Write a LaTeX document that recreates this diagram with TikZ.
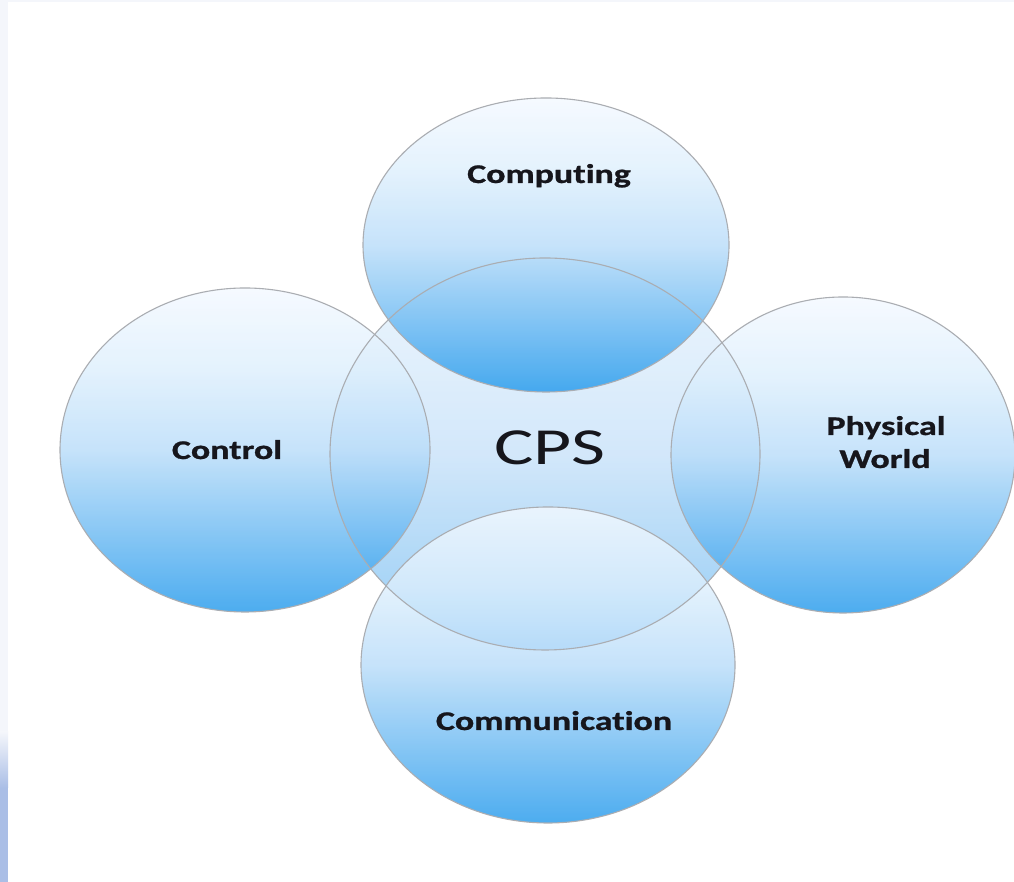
\documentclass[tikz,border=0pt]{standalone}
\usepackage{fontspec}
\setmainfont{Carlito}[Ligatures={NoCommon}]
\newfontfamily\lblfont{Carlito Bold}[FakeBold=0.8,Ligatures={NoCommon}]
\definecolor{oTop}{RGB}{244,249,255}
\definecolor{oHi}{RGB}{221,239,253}
\definecolor{oMid}{RGB}{184,220,249}
\definecolor{oBot}{RGB}{32,152,236}
\definecolor{cTop}{RGB}{232,244,253}
\definecolor{cHi}{RGB}{218,236,252}
\definecolor{cMid}{RGB}{200,226,249}
\definecolor{cBot}{RGB}{120,191,243}
\definecolor{rimgray}{RGB}{170,173,178}
\definecolor{txt}{RGB}{22,22,28}
\definecolor{stripA}{RGB}{244,246,251}
\definecolor{stripB}{RGB}{170,190,230}
\pgfdeclareverticalshading{bubshade}{100bp}{color(0bp)=(oBot); color(25bp)=(oBot); color(50bp)=(oMid); color(62.5bp)=(oHi); color(75bp)=(oTop); color(100bp)=(oTop)}
\pgfdeclareverticalshading{cpsshade}{100bp}{color(0bp)=(cBot); color(25bp)=(cBot); color(50bp)=(cMid); color(62.5bp)=(cHi); color(75bp)=(cTop); color(100bp)=(cTop)}
\begin{document}
\begin{tikzpicture}[x=1pt,y=1pt,
  outer/.style={shading=bubshade, fill opacity=0.8},
  inner/.style={shading=cpsshade, fill opacity=0.8},
  rim/.style={draw=rimgray, line width=1.1pt},
  lbl/.style={font=\lblfont\fontsize{27}{30}\selectfont, xscale=1.33, anchor=base, text=txt, inner sep=0pt},
  big/.style={font=\fontsize{52}{56}\selectfont, xscale=1.42, anchor=base, text=txt, inner sep=0pt}]
\useasboundingbox (0,0) rectangle (1014,882);
\fill[white] (0,0) rectangle (1014,882);
% edge strips
\fill[stripA] (0,0) rectangle (1014,882);
\fill[white] (8,0) rectangle (1014,880);
\fill[stripB] (0,0) rectangle (8,94);
\shade[top color=stripA, bottom color=stripB] (0,94) rectangle (8,150);
% centres
\coordinate (ccps)  at (545,428);
\coordinate (ccomp) at (546,637);
\coordinate (cctrl) at (245,432);
\coordinate (cphys) at (843,427);
\coordinate (ccomm) at (548,217);
% fills
\shade[inner] (ccps) ellipse [x radius=215, y radius=196];
\shade[outer] (cctrl) ellipse [x radius=185, y radius=162];
\shade[outer] (cphys) ellipse [x radius=172, y radius=158];
\shade[outer] (ccomp) ellipse [x radius=183, y radius=147];
\shade[outer] (ccomm) ellipse [x radius=187, y radius=158];
% outlines
\draw[rim] (ccps) ellipse [x radius=215, y radius=196];
\draw[rim] (cctrl) ellipse [x radius=185, y radius=162];
\draw[rim] (cphys) ellipse [x radius=172, y radius=158];
\draw[rim] (ccomp) ellipse [x radius=183, y radius=147];
\draw[rim] (ccomm) ellipse [x radius=187, y radius=158];
% labels
\node[lbl] (comp) at (549,699) {Computing};
\node[lbl] (ctrl) at (227,423) {Control};
\node[lbl] (phys) at (886,447) {Physical};
\node[lbl] (world) at (885,414) {World};
\node[lbl] (comm) at (554,152) {Communication};
\node[big] (cps) at (550,417) {CPS};
\end{tikzpicture}
\end{document}
